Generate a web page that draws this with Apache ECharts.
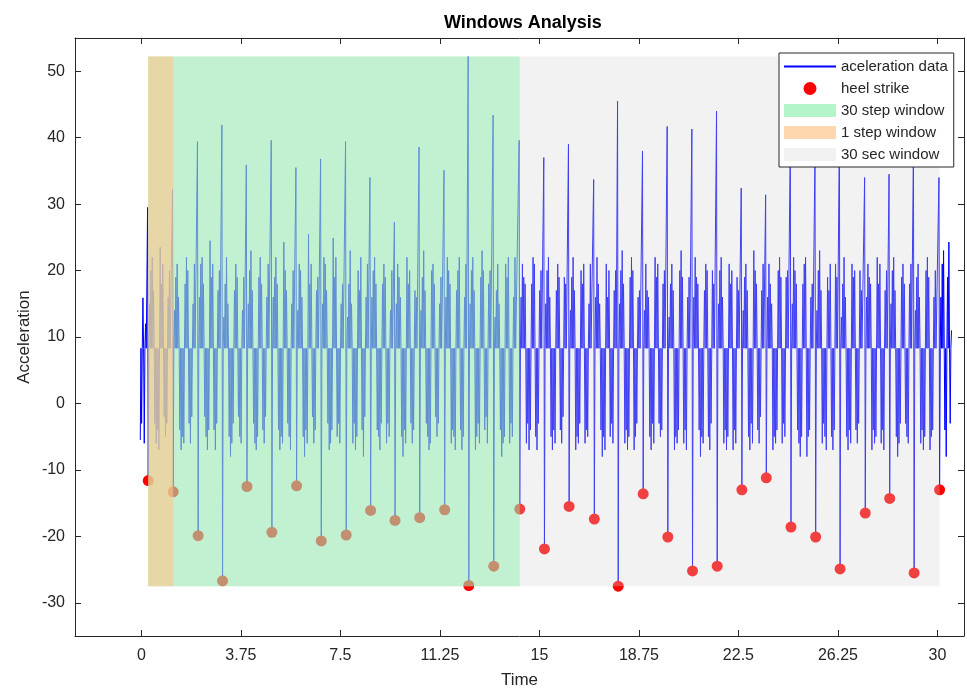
<!DOCTYPE html>
<html>
<head>
<meta charset="utf-8">
<title>Windows Analysis</title>
<script src="https://cdn.jsdelivr.net/npm/echarts@6/dist/echarts.min.js"></script>
<style>
  html, body { margin: 0; padding: 0; background: #fff; }
  #chart { width: 967px; height: 688px; }
</style>
</head>
<body>
<div id="chart"></div>
<script>
// tick labels
const xTicks = [0, 3.75, 7.5, 11.25, 15, 18.75, 22.5, 26.25, 30];
const yTicks = [-30, -20, -10, 0, 10, 20, 30, 40, 50];

// heel strikes (time in s, acceleration)
const heelTimes = [0.26, 1.20, 2.14, 3.06, 3.98, 4.92, 5.85, 6.78, 7.72, 8.64, 9.56,
  10.49, 11.43, 12.34, 13.28, 14.26, 15.19, 16.12, 17.07, 17.97, 18.91, 19.84,
  20.77, 21.70, 22.63, 23.55, 24.48, 25.41, 26.33, 27.28, 28.20, 29.12, 30.08];
const heelValues = [-11.6, -13.3, -19.9, -26.7, -12.5, -19.4, -12.4, -20.7, -19.8, -16.1, -17.6,
  -17.2, -16.0, -27.4, -24.5, -15.9, -21.9, -15.5, -17.4, -27.5, -13.6, -20.1,
  -25.2, -24.5, -13.0, -11.2, -18.6, -20.1, -24.9, -16.5, -14.3, -25.5, -13.0];

// tall peak just before each heel strike
const spikePeaks = [29.5, 32.2, 39.4, 41.9, 35.9, 39.6, 35.5, 36.8, 39.4, 34.0, 27.3,
  38.6, 35.1, 52.2, 43.4, 39.6, 37.0, 39.0, 33.7, 45.5, 38.0, 41.7,
  41.3, 44.0, 32.4, 31.4, 40.0, 38.0, 42.0, 34.0, 34.5, 39.0, 34.0];

// acceleration samples, one every sampleDt
const sampleDt = 0.025;
const leadInStart = -0.04;
const leadIn = [-5.5, 8.3, -3, 8.3, 15.9, 8.3, -6, 8.3, 12, 8.3];
// samples following each heel strike
const stepWaves = [
  [8.3,15,8.3,20,8.3,22,8.3,17,8.3,-3,8.3,-6,8.3,-4,8.3,-7,8.3,23.5,8.3,18,8.3,21,8.3,-2,8.3,-5,8.3,-3,8.3,16,8.3,20,8.3,8.3],
  [8.3,14,8.3,19,8.3,21,8.3,16,8.3,-4,8.3,-7,8.3,-5,8.3,-6,8.3,18,8.3,22,8.3,20,8.3,-3,8.3,-6,8.3,-2,8.3,15,8.3,21,8.3,8.3],
  [8.3,16,8.3,21,8.3,22,8.3,18,8.3,-2,8.3,-5,8.3,-7,8.3,-4,8.3,24.5,8.3,19,8.3,21,8.3,-4,8.3,-7,8.3,-3,8.3,17,8.3,20,8.3,8.3],
  [8.3,13,8.3,18,8.3,22,8.3,15,8.3,-5,8.3,-8,8.3,-6,8.3,-3,8.3,17,8.3,21,8.3,19,8.3,-2,8.3,-5,8.3,-6,8.3,14,8.3,19,8.3,8.3],
  [8.3,15,8.3,20,8.3,23,8.3,17,8.3,-3,8.3,-6,8.3,-7,8.3,-5,8.3,19,8.3,22,8.3,18,8.3,-4,8.3,-6,8.3,-2,8.3,16,8.3,21,8.3,8.3],
  [8.3,16,8.3,19,8.3,22,8.3,18,8.3,-4,8.3,-7,8.3,-5,8.3,-6,8.3,24.3,8.3,20,8.3,17,8.3,-3,8.3,-5,8.3,-7,8.3,15,8.3,20,8.3,8.3],
  [8.3,14,8.3,21,8.3,20,8.3,16,8.3,-5,8.3,-8,8.3,-4,8.3,-6,8.3,25.5,8.3,18,8.3,21,8.3,-2,8.3,-6,8.3,-4,8.3,17,8.3,19,8.3,8.3],
  [8.3,15,8.3,22,8.3,21,8.3,17,8.3,-3,8.3,-7,8.3,-6,8.3,-4,8.3,24.9,8.3,19,8.3,22,8.3,-5,8.3,-3,8.3,-6,8.3,15,8.3,18,8.3,8.3],
  [8.3,13,8.3,18,8.3,23,8.3,15,8.3,-6,8.3,-3,8.3,-7,8.3,-5,8.3,20,8.3,17,8.3,22,8.3,-4,8.3,-8,8.3,-2,8.3,16,8.3,21,8.3,8.3],
  [8.3,16,8.3,20,8.3,22,8.3,18,8.3,-4,8.3,-5,8.3,-7,8.3,-3,8.3,18,8.3,21,8.3,19,8.3,-6,8.3,-3,8.3,-5,8.3,14,8.3,20,8.3,8.3],
  [8.3,15,8.3,21,8.3,19,8.3,16,8.3,-5,8.3,-8,8.3,-4,8.3,-6,8.3,22,8.3,18,8.3,20,8.3,-3,8.3,-6,8.3,-4,8.3,17,8.3,16,8.3,8.3],
  [8.3,14,8.3,19,8.3,23,8.3,17,8.3,-3,8.3,-5,8.3,-7,8.3,-6,8.3,20,8.3,21,8.3,18,8.3,-2,8.3,-5,8.3,-3,8.3,15,8.3,19,8.3,8.3],
  [8.3,16,8.3,22,8.3,20,8.3,18,8.3,-6,8.3,-4,8.3,-5,8.3,-7,8.3,17,8.3,20,8.3,22,8.3,-4,8.3,-7,8.3,-5,8.3,16,8.3,21,8.3,8.3],
  [8.3,15,8.3,20,8.3,22,8.3,17,8.3,-7,8.3,-5,8.3,-3,8.3,-6,8.3,19,8.3,23,8.3,20,8.3,-4,8.3,-2,8.3,-6,8.3,18,8.3,20,8.3,8.3],
  [8.3,13,8.3,17,8.3,21,8.3,15,8.3,-4,8.3,-8,8.3,-6,8.3,-5,8.3,21,8.3,19,8.3,22,8.3,-6,8.3,-3,8.3,-5,8.3,16,8.3,22,8.3,8.3],
  [8.3,16,8.3,21,8.3,19,8.3,18,8.3,-6,8.3,-3,8.3,-7,8.3,-4,8.3,18,8.3,22,8.3,21,8.3,-5,8.3,-7,8.3,-3,8.3,17,8.3,20,8.3,8.3],
  [8.3,15,8.3,20,8.3,22,8.3,16,8.3,-5,8.3,-7,8.3,-4,8.3,-6,8.3,17,8.3,21,8.3,19,8.3,-4,8.3,-6,8.3,-2,8.3,19,8.3,18,8.3,8.3],
  [8.3,14,8.3,19,8.3,22,8.3,17,8.3,-7,8.3,-5,8.3,-6,8.3,-3,8.3,20,8.3,18,8.3,21,8.3,-6,8.3,-4,8.3,-5,8.3,15,8.3,21,8.3,8.3],
  [8.3,16,8.3,22,8.3,18,8.3,15,8.3,-4,8.3,-8,8.3,-5,8.3,-7,8.3,21,8.3,16,8.3,20,8.3,-5,8.3,-3,8.3,-6,8.3,17,8.3,20,8.3,8.3],
  [8.3,15,8.3,20,8.3,23,8.3,18,8.3,-6,8.3,-4,8.3,-7,8.3,-5,8.3,19,8.3,22,8.3,20,8.3,-7,8.3,-5,8.3,-3,8.3,16,8.3,17,8.3,8.3],
  [8.3,14,8.3,21,8.3,17,8.3,16,8.3,-5,8.3,-7,8.3,-3,8.3,-6,8.3,22,8.3,19,8.3,21,8.3,-3,8.3,-5,8.3,-4,8.3,18,8.3,20,8.3,8.3],
  [8.3,13,8.3,18,8.3,21,8.3,17,8.3,-7,8.3,-5,8.3,-6,8.3,-4,8.3,20,8.3,23,8.3,19,8.3,-6,8.3,-4,8.3,-7,8.3,16,8.3,19,8.3,8.3],
  [8.3,16,8.3,22,8.3,19,8.3,18,8.3,-4,8.3,-8,8.3,-5,8.3,-6,8.3,17,8.3,21,8.3,20,8.3,-5,8.3,-7,8.3,-3,8.3,20,8.3,18,8.3,8.3],
  [8.3,15,8.3,20,8.3,22,8.3,16,8.3,-6,8.3,-4,8.3,-7,8.3,-5,8.3,21,8.3,18,8.3,20,8.3,-7,8.3,-4,8.3,-6,8.3,19,8.3,17,8.3,8.3],
  [8.3,14,8.3,19,8.3,21,8.3,17,8.3,-5,8.3,-7,8.3,-3,8.3,-6,8.3,23,8.3,20,8.3,18,8.3,-4,8.3,-6,8.3,-2,8.3,17,8.3,21,8.3,8.3],
  [8.3,16,8.3,21,8.3,18,8.3,15,8.3,-7,8.3,-5,8.3,-6,8.3,-4,8.3,20,8.3,22,8.3,19,8.3,-6,8.3,-3,8.3,-5,8.3,19,8.3,20,8.3,8.3],
  [8.3,15,8.3,22,8.3,20,8.3,18,8.3,-4,8.3,-6,8.3,-8,8.3,-5,8.3,18,8.3,21,8.3,22,8.3,-8,8.3,-5,8.3,-4,8.3,16,8.3,18,8.3,8.3],
  [8.3,14,8.3,20,8.3,23,8.3,17,8.3,-6,8.3,-3,8.3,-5,8.3,-7,8.3,19,8.3,17,8.3,21,8.3,-5,8.3,-7,8.3,-4,8.3,21,8.3,19,8.3,8.3],
  [8.3,13,8.3,18,8.3,22,8.3,16,8.3,-5,8.3,-7,8.3,-4,8.3,-6,8.3,21,8.3,19,8.3,20,8.3,-4,8.3,-6,8.3,-3,8.3,20,8.3,17,8.3,8.3],
  [8.3,16,8.3,21,8.3,19,8.3,18,8.3,-7,8.3,-4,8.3,-6,8.3,-5,8.3,22,8.3,18,8.3,21,8.3,-6,8.3,-4,8.3,-7,8.3,17,8.3,20,8.3,8.3],
  [8.3,15,8.3,20,8.3,22,8.3,17,8.3,-5,8.3,-8,8.3,-6,8.3,-3,8.3,19,8.3,21,8.3,18,8.3,-3,8.3,-5,8.3,-6,8.3,18,8.3,21,8.3,8.3],
  [8.3,14,8.3,19,8.3,21,8.3,16,8.3,-6,8.3,-4,8.3,-7,8.3,-5,8.3,20,8.3,22,8.3,19,8.3,-7,8.3,-5,8.3,-4,8.3,16,8.3,20,8.3,8.3],
  [8.3,16,8.3,21,8.3,23,8.3,-4,8.3,-8,8.3,19,8.3,24.3,8.3,-3,8.3,11]
];

// shaded windows: [tStart, tEnd, accLow, accHigh]
const secWindow = [0.26, 30.08, -27.5, 52.2];
const stepWindow30 = [0.26, 14.26, -27.5, 52.2];
const stepWindow1 = [0.26, 1.20, -27.5, 52.2];

const accel = [];
leadIn.forEach((v, i) => accel.push([+(leadInStart + i * sampleDt).toFixed(4), v]));
heelTimes.forEach((t, k) => {
  const seq = [spikePeaks[k], heelValues[k]].concat(stepWaves[k]);
  seq.forEach((v, i) => accel.push([+(t - sampleDt + i * sampleDt).toFixed(4), v]));
});
const heels = heelTimes.map((t, i) => [t, heelValues[i]]);

const font = "'Liberation Sans', Arial, Helvetica, sans-serif";
const ink = '#262626';

function rectItem(fill, opacity) {
  return (params, api) => {
    const a = api.coord([api.value(0), api.value(3)]);
    const b = api.coord([api.value(1), api.value(2)]);
    return {
      type: 'rect',
      shape: { x: a[0], y: a[1], width: b[0] - a[0], height: b[1] - a[1] },
      style: { fill: fill, opacity: opacity }
    };
  };
}

const chart = echarts.init(document.getElementById('chart'));
const option = {
  animation: false,
  backgroundColor: '#fff',
  textStyle: { fontFamily: font },
  title: {
    text: 'Windows Analysis',
    left: 439,
    top: 9,
    textStyle: { fontSize: 18, fontWeight: 'bold', color: '#000', fontFamily: font }
  },
  legend: {
    orient: 'vertical',
    left: 779,
    top: 53,
    z: 20,
    padding: [6, 6, 5, 4],
    itemGap: 7,
    itemWidth: 52,
    itemHeight: 13,
    backgroundColor: '#fff',
    borderColor: ink,
    borderWidth: 1,
    borderRadius: 0,
    textStyle: { fontSize: 15, color: ink, fontFamily: font },
    data: [
      { name: 'aceleration data', lineStyle: { color: '#0000ff', width: 2 }, itemStyle: { opacity: 0 } },
      { name: 'heel strike', icon: 'circle', itemStyle: { color: '#ff0000' } },
      { name: '30 step window', icon: 'rect', itemStyle: { color: '#b5f5ca' } },
      { name: '1 step window', icon: 'rect', itemStyle: { color: '#ffd6ae' } },
      { name: '30 sec window', icon: 'rect', itemStyle: { color: '#f2f2f2' } }
    ]
  },
  grid: { left: 75, right: 3, top: 38, bottom: 52, containLabel: false, outerBoundsMode: 'none' },
  xAxis: [{
    type: 'value', min: -2.5, max: 31, position: 'bottom',
    name: 'Time', nameLocation: 'middle', nameGap: 36,
    nameTextStyle: { fontSize: 17, color: ink, fontFamily: font },
    axisLine: { onZero: false, lineStyle: { color: ink, width: 1 } },
    axisTick: { inside: true, length: 6, customValues: xTicks, lineStyle: { color: ink } },
    axisLabel: { customValues: xTicks, fontSize: 16, color: ink, margin: 12, fontFamily: font },
    splitLine: { show: false }
  }, {
    type: 'value', min: -2.5, max: 31, position: 'top',
    axisLine: { onZero: false, lineStyle: { color: ink, width: 1 } },
    axisTick: { inside: true, length: 6, customValues: xTicks, lineStyle: { color: ink } },
    axisLabel: { show: false },
    splitLine: { show: false }
  }],
  yAxis: [{
    type: 'value', min: -35, max: 55, position: 'left',
    name: 'Acceleration', nameLocation: 'middle', nameGap: 42, nameRotate: 90,
    nameMoveOverlap: false,
    nameTextStyle: { fontSize: 17, color: ink, fontFamily: font },
    axisLine: { onZero: false, show: true, lineStyle: { color: ink, width: 1 } },
    axisTick: { show: true, inside: true, length: 6, customValues: yTicks, lineStyle: { color: ink } },
    axisLabel: { customValues: yTicks, fontSize: 16, color: ink, margin: 10, fontFamily: font },
    splitLine: { show: false }
  }, {
    type: 'value', min: -35, max: 55, position: 'right',
    axisLine: { onZero: false, show: true, lineStyle: { color: ink, width: 1 } },
    axisTick: { show: true, inside: true, length: 6, customValues: yTicks, lineStyle: { color: ink } },
    axisLabel: { show: false },
    splitLine: { show: false }
  }],
  series: [
    {
      name: 'aceleration data',
      type: 'line',
      data: accel,
      showSymbol: false,
      symbol: 'none',
      z: 2,
      color: '#0000ff',
      lineStyle: { color: '#0000ff', width: 1 }
    },
    {
      name: 'heel strike',
      type: 'scatter',
      data: heels,
      symbol: 'circle',
      symbolSize: 11,
      z: 3,
      itemStyle: { color: '#ff0000', opacity: 1 }
    },
    {
      name: '30 sec window',
      type: 'custom',
      data: [secWindow],
      renderItem: rectItem('#d5d5d5', 0.3),
      itemStyle: { color: '#f2f2f2' },
      silent: true,
      z: 4
    },
    {
      name: '30 step window',
      type: 'custom',
      data: [stepWindow30],
      renderItem: rectItem('#88f0ab', 0.45),
      itemStyle: { color: '#b5f5ca' },
      silent: true,
      z: 5
    },
    {
      name: '1 step window',
      type: 'custom',
      data: [stepWindow1],
      renderItem: rectItem('#ffc78b', 0.6),
      itemStyle: { color: '#ffd6ae' },
      silent: true,
      z: 6
    }
  ]
};
chart.setOption(option);
</script>
</body>
</html>
